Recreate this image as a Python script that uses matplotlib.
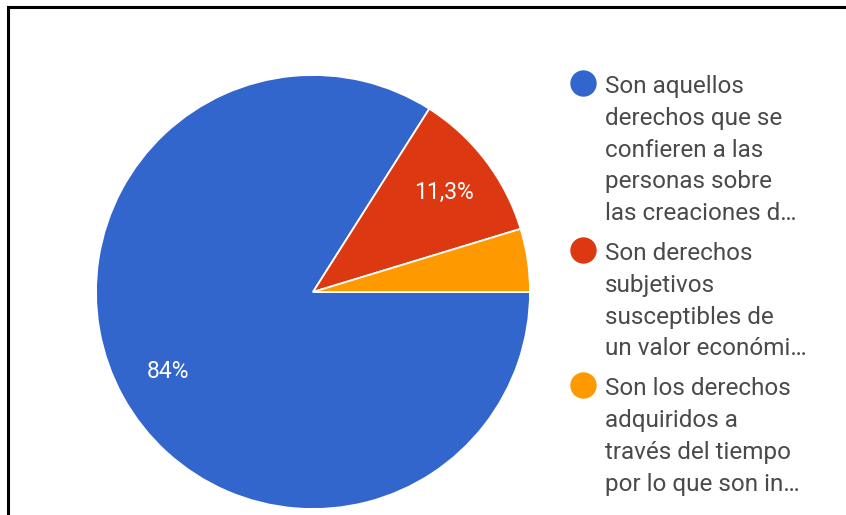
import matplotlib
matplotlib.use("Agg")
import matplotlib.pyplot as plt

plt.rcParams['font.family'] = ['Roboto', 'DejaVu Sans']

# responses (percent of answers)
labels = [
    "Son aquellos\nderechos que se\nconfieren a las\npersonas sobre\nlas creaciones d\u2026",
    "Son derechos\nsubjetivos\nsusceptibles de\nun valor económi\u2026",
    "Son los derechos\nadquiridos a\ntravés del tiempo\npor lo que son in\u2026",
]
values = [84, 11.3, 4.7]
colors = ['#3366cc', '#dc3912', '#ff9900']

W, H = 846, 515


def pct_label(p):
    # small slices are left unlabelled
    if p < 5:
        return ''
    return ('%g' % round(p, 1)).replace('.', ',') + '%'


fig = plt.figure(figsize=(W / 100, H / 100), dpi=100)
fig.patch.set_facecolor('white')

# pie: centre (313, 292) px, radius 217 px
cx, cy, r = 313, 292, 217
ax = fig.add_axes([(cx - r) / W, (H - cy - r) / H, 2 * r / W, 2 * r / H])
wedges, texts, autotexts = ax.pie(
    values, colors=colors, startangle=0, counterclock=False,
    autopct=pct_label, pctdistance=0.76,
    wedgeprops=dict(edgecolor='white', linewidth=1.3),
    textprops=dict(color='white', fontsize=16.5))
ax.set_xlim(-1, 1)
ax.set_ylim(-1, 1)
ax.set_aspect('equal')

# overlay in pixel units for the legend and the frame
lax = fig.add_axes([0, 0, 1, 1])
lax.set_xlim(0, W)
lax.set_ylim(H, 0)
lax.axis('off')

line_h = 31.8
y = 83
for lab, col in zip(labels, colors):
    lax.plot(582.5, y, 'o', ms=18, color=col, mec=col)
    lax.text(605, y - 8, lab, va='top', ha='left', fontsize=17.5,
             color='#4a4a4a', linespacing=1.49)
    y += (lab.count('\n') + 1) * line_h + 8

lax.plot([8, 8, W], [H, 7, 7], color='black', lw=2.2, solid_joinstyle='miter')

fig.savefig('out.png', dpi=100, facecolor='white')
